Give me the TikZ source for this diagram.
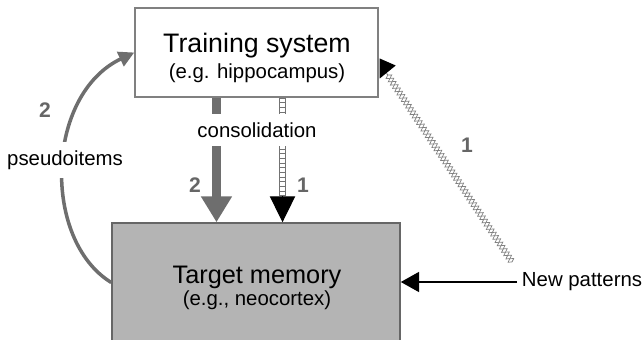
\documentclass[tikz,border=0pt]{standalone}
\usepackage{fontspec}
\setmainfont{Liberation Sans}
\usetikzlibrary{arrows.meta,decorations.pathmorphing,calc}
\definecolor{arrgray}{HTML}{6E6E6E}
\definecolor{boxgray}{HTML}{B4B4B4}

\begin{document}
\begin{tikzpicture}[x=0.025cm,y=-0.025cm,
    box/.style={line width=1pt,inner sep=0pt},
    big/.style={anchor=base,font=\fontsize{19}{22}\selectfont},
    lbl/.style={font=\fontsize{14.5}{17}\selectfont},
    num/.style={font=\fontsize{15}{18}\selectfont\bfseries,text=black!60},
    zz/.style={draw=black!50,line width=0.5pt,decorate,
      decoration={zigzag,amplitude=2.4pt,segment length=5.6pt}}]
  \useasboundingbox (0,0) rectangle (643,340);
  \clip (0,0) rectangle (643,340);
  % the two stores
  \node[box,draw=black!50,minimum width=6.075cm,minimum height=2.225cm] (train) at (256.5,52.5) {};
  \node[big] (trainA) at (257,53) {Training system};
  \node[lbl,anchor=base] (trainB) at (257,79) {(e.g. hippocampus)};
  \node[box,draw=black!60,fill=boxgray,minimum width=7.2cm,minimum height=2.975cm] (target) at (256,282.5) {};
  \node[big,font=\fontsize{18}{21}\selectfont] (targetA) at (257,283) {Target memory};
  \node[lbl,anchor=base] (targetB) at (257,305) {(e.g., neocortex)};
  % consolidation
  \coordinate (g1) at ([xshift=-1cm]train.south);
  \coordinate (g2) at (g1 |- target.north);
  \draw[line width=5.7pt,arrgray,-{Triangle[width=21pt,length=18.5pt]}] (g1) -- (g2);
  \coordinate (l1) at ([xshift=0.65cm]train.south);
  \coordinate (l2) at (l1 |- target.north);
  \coordinate (l3) at ($(l2)+(0,-26)$);
  \draw[black!55,double=white,double distance=3.2pt,line width=0.7pt] (l1) -- (l3);
  \draw[black!55,line width=3.4pt,dash pattern=on 0.7pt off 2.6pt] (l1) -- (l3);
  \draw[line width=0.8pt,-{Triangle[width=18pt,length=18.5pt]}] (l3) -- (l2);
  \node[lbl,fill=white,inner ysep=6pt] (cons) at (257,130) {consolidation};
  % new patterns
  \node[lbl,anchor=west] (np) at (517,282) {New patterns};
  \draw[line width=1.8pt,-{Triangle[width=14pt,length=13pt]}] (np.west) -- (target.east |- np.west);
  \coordinate (d1) at (512,262);
  \coordinate (d2) at ($(train.east)+(8,21)$);
  \draw[zz] (d1) -- (d2);
  \draw[zz,decoration={mirror}] (d1) -- (d2);
  \fill ($(train.east)+(1,6)$) -- ($(train.east)+(1,26)$) -- ($(train.east)+(17,13)$) -- cycle;
  % pseudoitems
  \draw[line width=2.5pt,arrgray,-{Triangle[width=11pt,length=11pt]}]
    (target.west) .. controls (42,240) and (45,95) .. (train.west);
  \node[lbl,fill=white,inner ysep=6pt] (pseu) at (65,160) {pseudoitems};
  \foreach \x/\y/\v/\n in{45/110/2/a, 195/185/2/b, 303/185/1/c, 467/145/1/d}{%
    \node[num] (n\n) at (\x,\y) {\v};
  }
\end{tikzpicture}
\end{document}
